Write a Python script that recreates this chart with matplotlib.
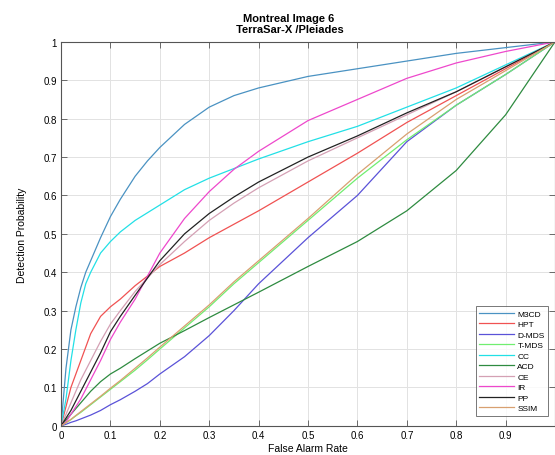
import matplotlib
matplotlib.use('Agg')
import matplotlib.pyplot as plt

plt.rcParams['font.family'] = ['Liberation Sans', 'DejaVu Sans']

# false alarm rate grid shared by all curves
fa = [0, 0.01, 0.02, 0.03, 0.04, 0.05, 0.06, 0.08, 0.1, 0.12, 0.15, 0.175, 0.2,
      0.25, 0.3, 0.35, 0.4, 0.5, 0.6, 0.7, 0.8, 0.9, 1.0]

m3cd = [0, 0.15, 0.25, 0.31, 0.36, 0.40, 0.43, 0.49, 0.545, 0.59, 0.65, 0.69,
        0.725, 0.785, 0.83, 0.86, 0.88, 0.91, 0.93, 0.95, 0.97, 0.985, 1]
hpt = [0, 0.05, 0.10, 0.135, 0.17, 0.205, 0.24, 0.285, 0.31, 0.33, 0.365, 0.39,
       0.415, 0.45, 0.49, 0.525, 0.56, 0.635, 0.71, 0.79, 0.86, 0.93, 1]
dmds = [0, 0.004, 0.009, 0.013, 0.018, 0.023, 0.028, 0.04, 0.055, 0.068, 0.09,
        0.11, 0.135, 0.18, 0.235, 0.3, 0.37, 0.49, 0.6, 0.74, 0.835, 0.915, 1]
tmds = [0, 0.008, 0.016, 0.026, 0.035, 0.045, 0.055, 0.075, 0.095, 0.115, 0.145,
        0.172, 0.2, 0.255, 0.31, 0.37, 0.425, 0.535, 0.645, 0.745, 0.835, 0.915, 1]
cc = [0, 0.07, 0.17, 0.25, 0.32, 0.37, 0.40, 0.45, 0.48, 0.505, 0.535, 0.555,
      0.575, 0.615, 0.645, 0.67, 0.695, 0.74, 0.78, 0.83, 0.88, 0.94, 1]
acd = [0, 0.015, 0.03, 0.045, 0.06, 0.075, 0.09, 0.115, 0.135, 0.15, 0.175,
       0.195, 0.215, 0.248, 0.282, 0.315, 0.348, 0.415, 0.48, 0.56, 0.665, 0.81, 1]
ce = [0, 0.03, 0.06, 0.09, 0.12, 0.145, 0.17, 0.22, 0.265, 0.30, 0.35, 0.385,
      0.42, 0.48, 0.535, 0.58, 0.62, 0.69, 0.75, 0.81, 0.87, 0.935, 1]
ir = [0, 0.01, 0.03, 0.05, 0.07, 0.095, 0.12, 0.17, 0.225, 0.27, 0.33, 0.39,
      0.45, 0.54, 0.61, 0.668, 0.715, 0.795, 0.85, 0.905, 0.945, 0.975, 1]
pp = [0, 0.02, 0.04, 0.065, 0.09, 0.115, 0.14, 0.19, 0.245, 0.285, 0.34, 0.385,
      0.43, 0.50, 0.553, 0.596, 0.635, 0.70, 0.755, 0.815, 0.87, 0.935, 1]
ssim = [0, 0.008, 0.017, 0.027, 0.037, 0.047, 0.057, 0.077, 0.098, 0.118, 0.15,
        0.177, 0.205, 0.26, 0.315, 0.375, 0.43, 0.54, 0.655, 0.76, 0.85, 0.925, 1]

labels = ['M3CD', 'HPT', 'D-MDS', 'T-MDS', 'CC', 'ACD', 'CE', 'IR', 'PP', 'SSIM']
series = [m3cd, hpt, dmds, tmds, cc, acd, ce, ir, pp, ssim]
colors = ['#4a92c2', '#f05252', '#5a52d8', '#70ee70', '#22e0e6', '#2e8b40',
          '#d4a0b4', '#ee48cc', '#222222', '#d8a070']

fig = plt.figure(figsize=(5.55, 4.56), dpi=100)
ax = fig.add_axes([0.110, 0.064, 0.890, 0.842])

for y, lab, c in zip(series, labels, colors):
    ax.plot(fa, y, color=c, lw=0.9, label=lab)

ticks = [i / 10 for i in range(11)]
ax.set_xlim(0, 1)
ax.set_ylim(0, 1)
ax.set_xticks(ticks)
ax.set_yticks(ticks)
# last x label falls off the cropped right edge in the reference
ax.set_xticklabels(['0', '0.1', '0.2', '0.3', '0.4', '0.5', '0.6', '0.7', '0.8', '0.9', ''])
ax.set_yticklabels(['0', '0.1', '0.2', '0.3', '0.4', '0.5', '0.6', '0.7', '0.8', '0.9', '1'])
ax.tick_params(direction='in', top=True, right=True, labelsize=7, length=4,
               width=0.6, color='#555555', pad=3)
ax.grid(True, color='#e2e2e2', lw=0.7)
for s in ax.spines.values():
    s.set_color('#555555')
    s.set_linewidth(0.8)

ax.set_title('Montreal Image 6\n TerraSar-X /Pleiades', fontsize=8,
             fontweight='bold', pad=7, linespacing=1.2, x=0.46)
ax.set_xlabel('False Alarm Rate', fontsize=7.5, labelpad=2)
ax.set_ylabel('Detection Probability', fontsize=7.5, labelpad=12)

leg = ax.legend(loc='lower right', fontsize=6, frameon=True, fancybox=False,
                edgecolor='#555555', handlelength=4.2, handletextpad=0.35,
                labelspacing=0.32, borderpad=0.45, bbox_to_anchor=(0.995, 0.015))
leg.get_frame().set_linewidth(0.7)

fig.savefig('out.png', dpi=100)
